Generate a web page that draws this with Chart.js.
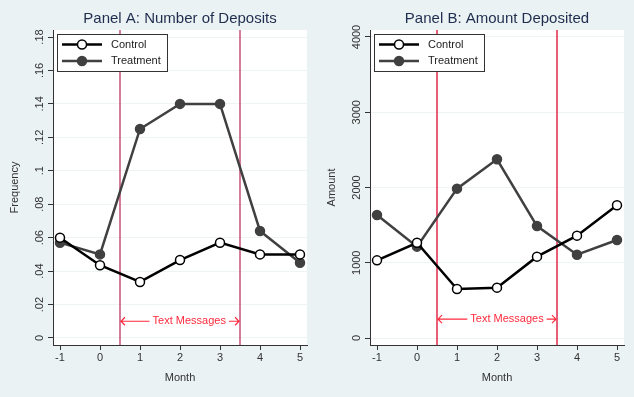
<!DOCTYPE html>
<html>
<head>
<meta charset="utf-8">
<script src="https://cdn.jsdelivr.net/npm/chart.js@4.4.1/dist/chart.umd.min.js"></script>
<style>
  html, body { margin: 0; padding: 0; background: #EAF2F3; }
  #wrap { position: relative; width: 634px; height: 397px; }
  .panel { position: absolute; top: 0; width: 317px; height: 397px; }
</style>
</head>
<body>
<div id="wrap">
  <div class="panel" style="left:0"><canvas id="panelA"></canvas></div>
  <div class="panel" style="left:317px"><canvas id="panelB"></canvas></div>
</div>
<script>
// months on the x axis
const months = [-1, 0, 1, 2, 3, 4, 5];

// Panel A: number of deposits (frequency)
const depositsControl   = [0.060, 0.0435, 0.0335, 0.0466, 0.057, 0.050, 0.050];
const depositsTreatment = [0.057, 0.050, 0.125, 0.140, 0.140, 0.064, 0.045];
const freqTicks  = [0, 0.02, 0.04, 0.06, 0.08, 0.1, 0.12, 0.14, 0.16, 0.18];
const freqLabels = ['0', '.02', '.04', '.06', '.08', '.1', '.12', '.14', '.16', '.18'];

// Panel B: amount deposited
const amountControl   = [1032, 1266, 651, 669, 1081, 1360, 1763];
const amountTreatment = [1635, 1214, 1985, 2375, 1488, 1107, 1302];
const amountTicks  = [0, 1000, 2000, 3000, 4000];
const amountLabels = ['0', '1000', '2000', '3000', '4000'];

// text message window
const windowStart = 0.5;
const windowEnd = 3.5;
const textLabel = 'Text Messages';

const FONT = '"Liberation Sans", Arial, sans-serif';
const BG = '#EAF2F3';

function panelPlugin(opts) {
    return {
        id: 'panelExtras',
        beforeDraw(chart) {
            const a = chart.chartArea, ctx = chart.ctx;
            ctx.save();
            ctx.fillStyle = '#ffffff';
            ctx.fillRect(a.left, a.top, a.right - a.left, a.bottom - a.top);
            ctx.restore();
        },
        beforeDatasetsDraw(chart) {
            const a = chart.chartArea, ctx = chart.ctx;
            const xs = chart.scales.x, ys = chart.scales.y;
            const x0 = xs.getPixelForValue(windowStart);
            const x1 = xs.getPixelForValue(windowEnd);
            ctx.save();
            ctx.strokeStyle = opts.lineColor;
            ctx.lineWidth = 1.5;
            [x0, x1].forEach(function (x) {
                ctx.beginPath();
                ctx.moveTo(x, a.top);
                ctx.lineTo(x, a.bottom);
                ctx.stroke();
            });
            // annotation with arrows
            const y = ys.getPixelForValue(opts.textY);
            const tx = xs.getPixelForValue(opts.textX);
            ctx.font = '11px ' + FONT;
            ctx.fillStyle = '#FF2A3C';
            ctx.textAlign = 'center';
            ctx.textBaseline = 'middle';
            ctx.fillText(textLabel, tx, y);
            const w = ctx.measureText(textLabel).width;
            ctx.strokeStyle = '#FF2A3C';
            ctx.lineWidth = 1.2;
            const l1 = tx - w / 2 - 3, r1 = tx + w / 2 + 3;
            ctx.beginPath();
            ctx.moveTo(l1, y); ctx.lineTo(x0 + 1, y);
            ctx.moveTo(x0 + 5, y - 4); ctx.lineTo(x0 + 1, y); ctx.lineTo(x0 + 5, y + 4);
            ctx.moveTo(r1, y); ctx.lineTo(x1 - 1, y);
            ctx.moveTo(x1 - 5, y - 4); ctx.lineTo(x1 - 1, y); ctx.lineTo(x1 - 5, y + 4);
            ctx.stroke();
            ctx.restore();
        },
        afterDraw(chart) {
            const a = chart.chartArea, ctx = chart.ctx;
            const ys = chart.scales.y;
            ctx.save();
            // title
            ctx.font = '15px ' + FONT;
            ctx.fillStyle = '#1F2D4E';
            ctx.textAlign = 'center';
            ctx.textBaseline = 'middle';
            ctx.fillText(opts.title, (a.left + a.right) / 2, 19);
            // rotated y tick labels
            ctx.font = '11px ' + FONT;
            ctx.fillStyle = '#333333';
            opts.yTicks.forEach(function (v, i) {
                const py = ys.getPixelForValue(v);
                ctx.save();
                ctx.translate(a.left - 13, py);
                ctx.rotate(-Math.PI / 2);
                ctx.fillText(opts.yLabels[i], 0, 0);
                ctx.restore();
            });
            // legend
            const bx = a.left + 4, by = a.top + 4, bw = 110, bh = 37;
            ctx.fillStyle = '#ffffff';
            ctx.fillRect(bx, by, bw, bh);
            ctx.strokeStyle = '#333333';
            ctx.lineWidth = 1;
            ctx.strokeRect(bx + 0.5, by + 0.5, bw, bh);
            chart.data.datasets.forEach(function (ds, i) {
                const ry = by + 10.5 + i * 16.5;
                ctx.strokeStyle = ds.borderColor;
                ctx.lineWidth = ds.borderWidth;
                ctx.beginPath();
                ctx.moveTo(bx + 5, ry);
                ctx.lineTo(bx + 45, ry);
                ctx.stroke();
                ctx.beginPath();
                ctx.arc(bx + 25, ry, 4.5, 0, Math.PI * 2);
                ctx.fillStyle = ds.pointBackgroundColor;
                ctx.fill();
                ctx.lineWidth = 1.5;
                ctx.strokeStyle = ds.pointBorderColor;
                ctx.stroke();
                ctx.fillStyle = '#222222';
                ctx.textAlign = 'left';
                ctx.font = '11px ' + FONT;
                ctx.fillText(ds.label, bx + 54, ry);
            });
            ctx.restore();
        }
    };
}

function makePanel(id, control, treatment, yMin, yMax, yTicks, yLabels, yTitle, opts) {
    const toPoints = function (vals) {
        return months.map(function (m, i) { return { x: m, y: vals[i] }; });
    };
    opts.yTicks = yTicks;
    opts.yLabels = yLabels;
    return new Chart(document.getElementById(id), {
        type: 'line',
        data: {
            datasets: [{
                label: 'Control',
                data: toPoints(control),
                borderColor: '#000000',
                borderWidth: 2.5,
                pointRadius: 4.5,
                pointBorderWidth: 1.5,
                pointBackgroundColor: '#ffffff',
                pointBorderColor: '#000000',
                tension: 0
            }, {
                label: 'Treatment',
                data: toPoints(treatment),
                borderColor: '#404040',
                borderWidth: 2.5,
                pointRadius: 4.5,
                pointBorderWidth: 1.5,
                pointBackgroundColor: '#404040',
                pointBorderColor: '#404040',
                tension: 0
            }]
        },
        options: {
            responsive: false,
            animation: false,
            devicePixelRatio: 1,
            layout: { padding: { left: 0, right: 10, top: 30, bottom: 0 } },
            plugins: { legend: { display: false }, tooltip: { enabled: false }, title: { display: false } },
            scales: {
                x: {
                    type: 'linear',
                    min: -1.175,
                    max: 5.175,
                    afterBuildTicks: function (s) { s.ticks = months.map(function (v) { return { value: v }; }); },
                    afterFit: function (s) { s.height = 52; },
                    grid: { drawOnChartArea: false, tickLength: 5, tickColor: '#333333' },
                    border: { color: '#333333', width: 1 },
                    ticks: { color: '#333333', font: { family: FONT, size: 11 }, padding: 1, maxRotation: 0 },
                    title: { display: true, text: 'Month', color: '#333333', font: { family: FONT, size: 11 }, padding: { top: 0, bottom: 12 } }
                },
                y: {
                    min: yMin,
                    max: yMax,
                    afterBuildTicks: function (s) { s.ticks = yTicks.map(function (v) { return { value: v }; }); },
                    afterFit: function (s) { s.width = 53; },
                    grid: { color: '#EEF4F5', lineWidth: 1, tickLength: 5, tickColor: '#333333' },
                    border: { color: '#333333', width: 1 },
                    ticks: { display: false },
                    title: { display: true, text: yTitle, color: '#333333', font: { family: FONT, size: 11 }, padding: { top: 8, bottom: 0 } }
                }
            }
        },
        plugins: [panelPlugin(opts)]
    });
}

document.getElementById('panelA').width = 317;
document.getElementById('panelA').height = 397;
document.getElementById('panelB').width = 317;
document.getElementById('panelB').height = 397;

makePanel('panelA', depositsControl, depositsTreatment, -0.0042, 0.1842, freqTicks, freqLabels, 'Frequency',
    { title: 'Panel A: Number of Deposits', lineColor: '#C4507A', textX: 2.23, textY: 0.01 });
makePanel('panelB', amountControl, amountTreatment, -93, 4093, amountTicks, amountLabels, 'Amount',
    { title: 'Panel B: Amount Deposited', lineColor: '#E0284A', textX: 2.25, textY: 250 });
</script>
</body>
</html>
